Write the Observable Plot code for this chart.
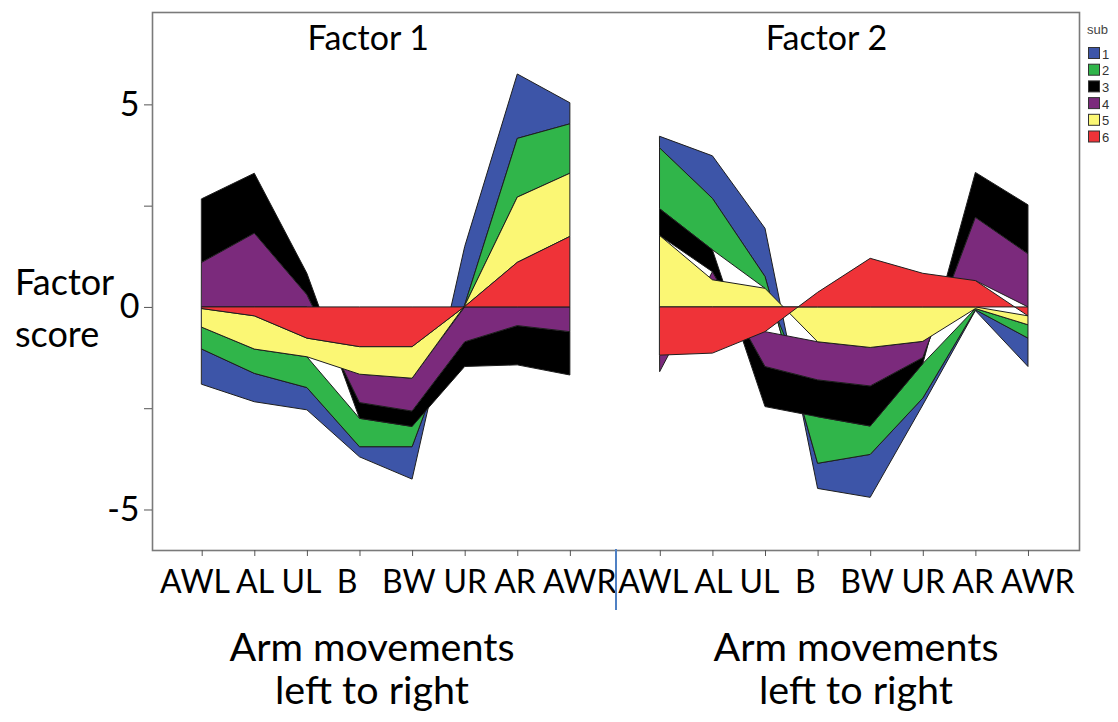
<!DOCTYPE html>
<html>
<head>
<meta charset="utf-8">
<script src="https://cdn.jsdelivr.net/npm/d3@7"></script>
<script src="https://cdn.jsdelivr.net/npm/@observablehq/plot@0.6"></script>
<style>
  html, body { margin: 0; padding: 0; background: #fff; }
  #chart { position: relative; width: 1118px; height: 722px; }
  #chart g[aria-label="x tick labels"] text { white-space: pre; }
</style>
</head>
<body>
<div id="chart"></div>
<script>
// ---- data ----
const positions = ["AWL", "AL", "UL", "B", "BW", "UR", "AR", "AWR"];
const subjects = ["1", "2", "3", "4", "5", "6"];
const subjectColors = ["#3d55a8", "#30b54a", "#000000", "#7b2a7c", "#fbf774", "#ef3338"];
const factors = ["Factor 1", "Factor 2"];
const yTicks = [-5, 0, 5];
const yMinorTicks = [-2.5, 2.5];
const yTitle = ["Factor", "score"];
const xTitle = ["Arm movements", "left to right"];
const legendTitle = "sub";

// factor scores, one row per subject (1..6), one column per position
const factor1Scores = [
  [-0.87, -0.70, -0.55, -0.25, -0.80,  1.44,  1.59,  0.52],
  [-0.54, -0.60, -0.76, -0.70, -0.50,  0.02,  1.45,  1.22],
  [ 1.57,  1.48,  0.53, -0.39, -0.38, -0.61, -0.97, -1.07],
  [ 1.10,  1.82,  0.30, -0.70, -0.81, -0.86, -0.46, -0.61],
  [-0.46, -0.82, -0.46, -0.68, -0.78,  0.02,  1.61,  1.56],
  [-0.04, -0.22, -0.77, -0.98, -0.98,  0.01,  1.10,  1.74]
];
const factor2Scores = [
  [ 0.29,  1.05,  1.19, -0.62, -1.06, -0.17, -0.02, -0.70],
  [ 1.50,  1.27,  0.29, -1.15, -0.70, -0.85, -0.03, -0.33],
  [ 0.66,  0.54, -0.99, -0.91, -0.99, -0.15,  1.11,  1.21],
  [-0.40,  0.20, -0.86, -0.94, -0.95, -0.40,  1.56,  1.31],
  [ 1.76,  0.67,  0.46, -0.86, -1.00, -0.85, -0.04, -0.22],
  [-1.19, -1.14, -0.61,  0.36,  1.20,  0.83,  0.65, -0.22]
];

// ---- layout constants ----
const PANEL_OFFSET = 8.71;   // second panel starts this many steps to the right
const FONT = "Lato, 'Open Sans', sans-serif";
const NBSP = "\u00A0";

const scoreTables = [factor1Scores, factor2Scores];
const rows = [];
scoreTables.forEach((table, p) => {
  table.forEach((vals, s) => {
    vals.forEach((v, i) => {
      rows.push({x: i + p * PANEL_OFFSET, y: v, sub: subjects[s], key: factors[p] + "-" + subjects[s]});
    });
  });
});
const tickXs = factors.flatMap((f, p) => positions.map((label, i) => i + p * PANEL_OFFSET));
const panelCenters = factors.map((f, p) => (positions.length - 1) / 2 + p * PANEL_OFFSET);
// the original typed the tick labels as one line per panel, with extra room around "B"
const tickLine = positions.map(p => p === "B" ? NBSP + p + NBSP + NBSP : p).join(NBSP);
const labelRows = factors.map((f, p) => ({x: panelCenters[p], line: tickLine}));
const titleRows = factors.map((f, p) => ({x: panelCenters[p], label: f}));

const plot = Plot.plot({
  width: 1118,
  height: 722,
  marginLeft: 152,
  marginRight: 39,
  marginTop: 12,
  marginBottom: 172,
  style: {fontFamily: FONT, background: "white", color: "black", overflow: "visible"},
  x: {type: "linear", domain: [-0.945, 16.68], axis: null},
  y: {domain: [-6, 7.28], axis: null},
  color: {domain: subjects, range: subjectColors},
  marks: [
    Plot.areaY(rows, {x: "x", y: "y", z: "key", fill: "sub", stroke: "#1e1e1e", strokeWidth: 1, reverse: true}),
    Plot.frame({stroke: "#7a7a7a", strokeWidth: 1.6}),
    Plot.axisY({ticks: yTicks, label: null, tickSize: 8, tickPadding: 5, fontSize: 34, tickFormat: d => String(d), stroke: "#555"}),
    Plot.axisY({ticks: yMinorTicks, label: null, tickSize: 8, tickFormat: () => "", stroke: "#555"}),
    Plot.axisX({ticks: tickXs, label: null, tickSize: 6, tickFormat: () => "", stroke: "#555"}),
    Plot.text(labelRows, {x: "x", text: "line", frameAnchor: "bottom", lineAnchor: "top", dy: 20, dx: 2, fontSize: 32, fill: "black", ariaLabel: "x tick labels"}),
    Plot.text(titleRows, {x: "x", text: "label", frameAnchor: "top", lineAnchor: "top", dy: 13, dx: -18, fontSize: 34, fill: "black"})
  ]
});

const chart = document.getElementById("chart");
chart.appendChild(plot);

// ---- annotations outside the plotting area ----
const svg = d3.select(plot);
const ann = svg.append("g").attr("font-family", FONT).attr("fill", "black");
yTitle.forEach((t, i) => {
  ann.append("text").attr("x", 15).attr("y", 295 + i * 52).attr("text-anchor", "start")
    .attr("font-size", 36).text(t);
});
[372, 856].forEach(cx => {
  xTitle.forEach((t, i) => {
    ann.append("text").attr("x", cx).attr("y", 661 + i * 43).attr("text-anchor", "middle")
      .attr("font-size", 39.5).text(t);
  });
});
// separator under the axis
svg.append("line").attr("x1", 616).attr("x2", 616).attr("y1", 549).attr("y2", 610)
  .attr("stroke", "#4f81c4").attr("stroke-width", 2);

// legend
const leg = svg.append("g").attr("font-family", "'Liberation Sans', Arial, sans-serif").attr("text-anchor", "start");
leg.append("text").attr("x", 1087).attr("y", 34).attr("font-size", 13).attr("fill", "#444").text(legendTitle);
subjects.forEach((s, i) => {
  const y0 = 47.5 + i * 16.7;
  leg.append("rect").attr("x", 1088.5).attr("y", y0).attr("width", 11).attr("height", 11)
    .attr("fill", subjectColors[i]).attr("stroke", "#333").attr("stroke-width", 1);
  leg.append("text").attr("x", 1102).attr("y", y0 + 11).attr("font-size", 13).attr("fill", "#333").text(s);
});
</script>
</body>
</html>
